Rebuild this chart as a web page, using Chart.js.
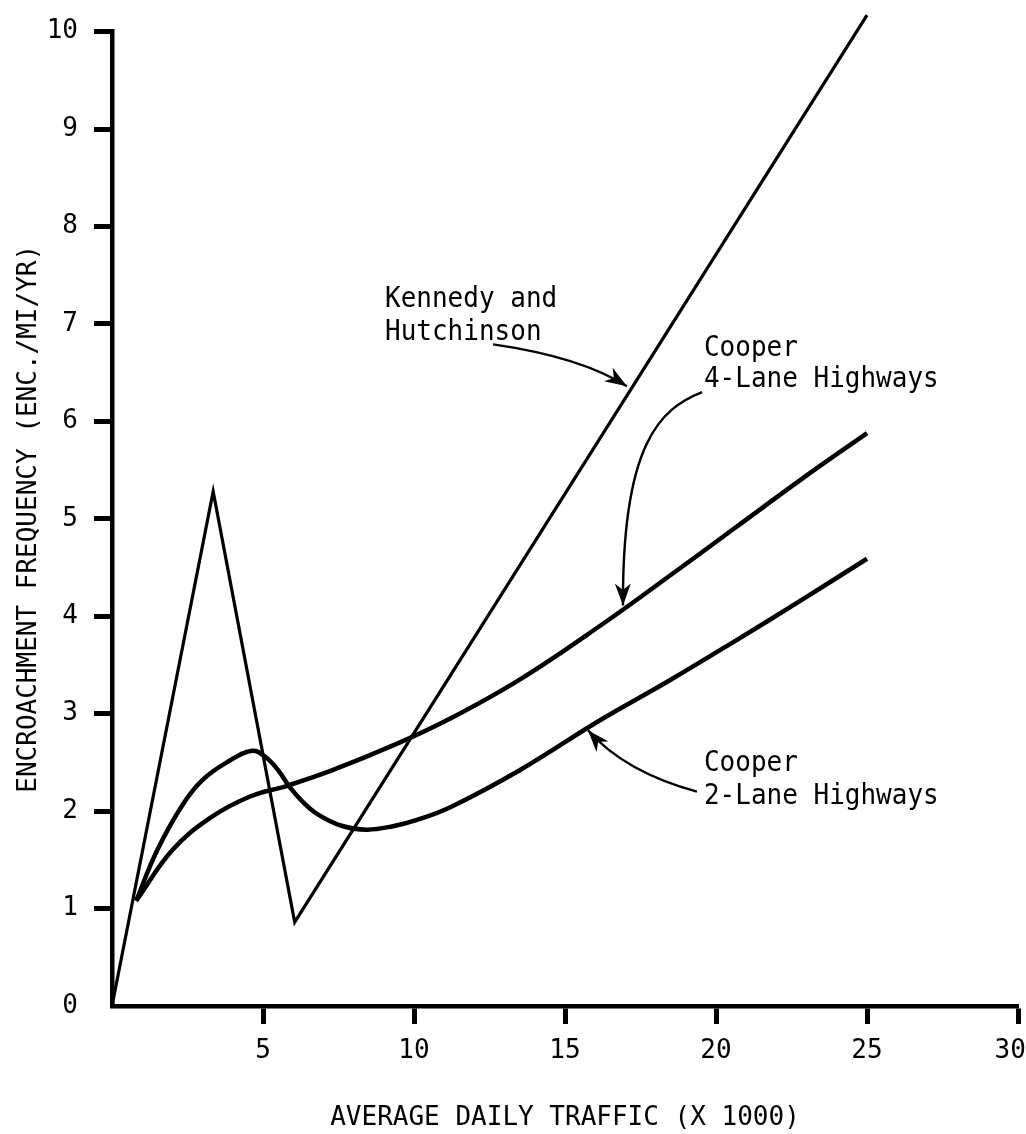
<!DOCTYPE html>
<html>
<head>
<meta charset="utf-8">
<script src="https://cdn.jsdelivr.net/npm/chart.js@4.4.1/dist/chart.umd.min.js"></script>
<style>
  html, body { margin: 0; padding: 0; background: #fff; }
  #wrap { width: 1026px; height: 1134px; }
</style>
</head>
<body>
<div id="wrap"><canvas id="encChart" width="1026" height="1134"></canvas></div>
<script>
// Datos (ADT en miles, encroachments/mi/yr)
const xTicks = [5, 10, 15, 20, 25, 30];
const yTicks = [0, 1, 2, 3, 4, 5, 6, 7, 8, 9, 10];

const khX = [0, 3.35, 6.05, 25];
const khY = [0, 5.28, 0.86, 10.17];

const coop4X = [0.8, 2.0, 3.25, 4.57, 5.8, 7.3, 9.5, 11.2, 13.5, 16.2, 18.4, 20.6, 22.8, 25];
const coop4Y = [1.08, 1.6, 1.93, 2.15, 2.26, 2.42, 2.7, 2.95, 3.35, 3.91, 4.40, 4.90, 5.40, 5.88];

const coop2X = [0.8, 1.5, 2.35, 3.0, 3.8, 4.64, 5.1, 5.5, 5.9, 6.3, 6.8, 7.6, 8.44, 9.3, 10.1, 11.2, 13.5, 16.2, 18.4, 20.6, 22.8, 25];
const coop2Y = [1.08, 1.6, 2.07, 2.32, 2.5, 2.62, 2.55, 2.42, 2.24, 2.1, 1.97, 1.85, 1.81, 1.845, 1.91, 2.04, 2.42, 2.94, 3.33, 3.74, 4.16, 4.59];

// Etiquetas (en unidades de datos): lineas de texto con su linea base
const labelLines = [
    { text: 'Kennedy and', x: 9.04, y: 7.17 },
    { text: 'Hutchinson', x: 9.04, y: 6.84 },
    { text: 'Cooper', x: 19.6, y: 6.67 },
    { text: '4-Lane Highways', x: 19.6, y: 6.35 },
    { text: 'Cooper', x: 19.6, y: 2.41 },
    { text: '2-Lane Highways', x: 19.6, y: 2.07 }
];

// Flechas: puntos de control en unidades de datos, la ultima es la punta
const arrows = [
    [[12.62, 6.79], [15.53, 6.66], [17.05, 6.36]],
    [[19.54, 6.30], [18.15, 6.13], [16.89, 5.77], [16.92, 4.11]],
    [[19.37, 2.20], [16.99, 2.40], [15.76, 2.83]]
];

const FONT = "'DejaVu Sans Mono', 'Liberation Mono', monospace";

function toPoints(xs, ys) {
    return xs.map((x, i) => ({ x: x, y: ys[i] }));
}

const annotationPlugin = {
    id: 'annotations',
    afterDatasetsDraw(chart) {
        const ctx = chart.ctx;
        const sx = chart.scales.x, sy = chart.scales.y;
        const px = p => [sx.getPixelForValue(p[0]), sy.getPixelForValue(p[1])];
        ctx.save();
        ctx.fillStyle = '#000';
        ctx.font = '26px ' + FONT;
        ctx.textAlign = 'left';
        ctx.textBaseline = 'alphabetic';
        labelLines.forEach(l => {
            // texto algo mas alto, como la maquina de escribir del original
            const x = sx.getPixelForValue(l.x), y = sy.getPixelForValue(l.y);
            ctx.save();
            ctx.translate(x, y);
            ctx.scale(1, 1.12);
            ctx.fillText(l.text, 0, 0);
            ctx.restore();
        });

        ctx.strokeStyle = '#000';
        ctx.lineWidth = 2.4;
        arrows.forEach(a => {
            const p = a.map(px);
            ctx.beginPath();
            ctx.moveTo(p[0][0], p[0][1]);
            let from;
            if (p.length === 3) {
                ctx.quadraticCurveTo(p[1][0], p[1][1], p[2][0], p[2][1]);
                from = p[1];
            } else {
                ctx.bezierCurveTo(p[1][0], p[1][1], p[2][0], p[2][1], p[3][0], p[3][1]);
                from = p[2];
            }
            ctx.stroke();
            const tip = p[p.length - 1];
            const ang = Math.atan2(tip[1] - from[1], tip[0] - from[0]);
            const len = 22, half = 8;
            ctx.beginPath();
            ctx.moveTo(tip[0], tip[1]);
            ctx.lineTo(tip[0] - len * Math.cos(ang) + half * Math.sin(ang),
                       tip[1] - len * Math.sin(ang) - half * Math.cos(ang));
            ctx.lineTo(tip[0] - len * 0.7 * Math.cos(ang), tip[1] - len * 0.7 * Math.sin(ang));
            ctx.lineTo(tip[0] - len * Math.cos(ang) - half * Math.sin(ang),
                       tip[1] - len * Math.sin(ang) + half * Math.cos(ang));
            ctx.closePath();
            ctx.fill();
        });
        ctx.restore();
    }
};

function renderChart() {
    const ctx = document.getElementById('encChart').getContext('2d');
    new Chart(ctx, {
        type: 'scatter',
        data: {
            datasets: [
                {
                    label: 'Kennedy and Hutchinson',
                    data: toPoints(khX, khY),
                    showLine: true,
                    borderColor: '#000',
                    borderWidth: 3.2,
                    pointRadius: 0,
                    tension: 0,
                    clip: false
                },
                {
                    label: 'Cooper 4-Lane Highways',
                    data: toPoints(coop4X, coop4Y),
                    showLine: true,
                    borderColor: '#000',
                    borderWidth: 4.5,
                    pointRadius: 0,
                    tension: 0.4,
                    clip: false
                },
                {
                    label: 'Cooper 2-Lane Highways',
                    data: toPoints(coop2X, coop2Y),
                    showLine: true,
                    borderColor: '#000',
                    borderWidth: 4.5,
                    pointRadius: 0,
                    tension: 0.4,
                    clip: false
                }
            ]
        },
        options: {
            responsive: false,
            animation: false,
            layout: { padding: { top: 25, right: 8, left: 0, bottom: 0 } },
            plugins: {
                legend: { display: false },
                tooltip: { enabled: false }
            },
            scales: {
                x: {
                    type: 'linear',
                    min: 0,
                    max: 30,
                    afterBuildTicks: s => { s.ticks = xTicks.map(v => ({ value: v })); },
                    afterFit: s => {
                        s.height = 128;
                        s.paddingLeft = 0;
                        s.paddingRight = 0;
                    },
                    border: { display: true, color: '#000', width: 4.5 },
                    grid: {
                        drawOnChartArea: false,
                        drawTicks: true,
                        tickLength: 18,
                        tickWidth: 5,
                        tickColor: '#000'
                    },
                    ticks: {
                        color: '#000',
                        font: { family: FONT, size: 26 },
                        padding: 12,
                        maxRotation: 0,
                        // el ultimo rotulo queda un poco a la izquierda, como en el original
                        callback: v => (v === 30 ? '30 ' : String(v))
                    },
                    title: {
                        display: true,
                        text: 'AVERAGE DAILY TRAFFIC (X 1000)',
                        color: '#000',
                        font: { family: FONT, size: 26 },
                        padding: { top: 12, bottom: 0 }
                    }
                },
                y: {
                    type: 'linear',
                    min: 0,
                    max: 10,
                    afterBuildTicks: s => { s.ticks = yTicks.map(v => ({ value: v })); },
                    afterFit: s => { s.width = 112; },
                    border: { display: true, color: '#000', width: 4.5 },
                    grid: {
                        drawOnChartArea: false,
                        drawTicks: true,
                        tickLength: 18,
                        tickWidth: 5,
                        tickColor: c => (c.tick && c.tick.value === 0) ? 'rgba(0,0,0,0)' : '#000'
                    },
                    ticks: {
                        color: '#000',
                        font: { family: FONT, size: 26 },
                        padding: 16
                    },
                    title: {
                        display: true,
                        text: 'ENCROACHMENT FREQUENCY (ENC./MI/YR)',
                        color: '#000',
                        font: { family: FONT, size: 26 },
                        padding: { top: 14, bottom: 0 }
                    }
                }
            }
        },
        plugins: [annotationPlugin]
    });
}

document.addEventListener('DOMContentLoaded', () => {
    renderChart();
});
</script>
</body>
</html>
